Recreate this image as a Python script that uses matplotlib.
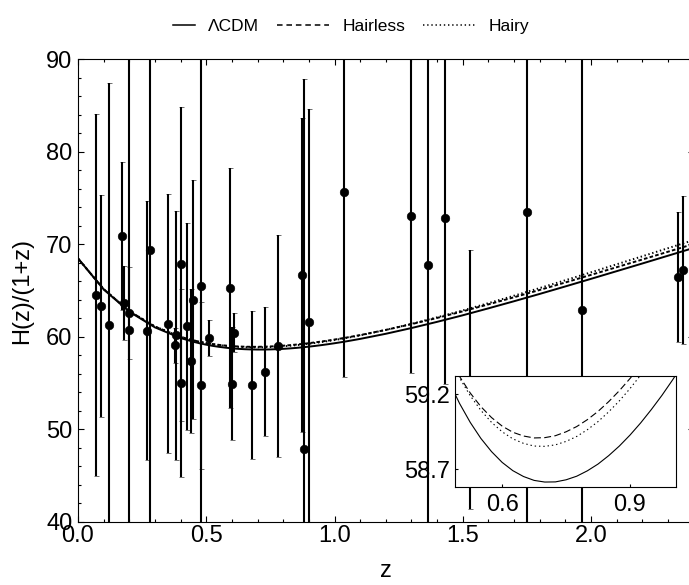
import numpy as np
import matplotlib
matplotlib.use("Agg")
import matplotlib.pyplot as plt
from matplotlib.ticker import MultipleLocator, FixedLocator
from matplotlib.lines import Line2D
from matplotlib.legend_handler import HandlerLine2D

plt.rcParams['font.family'] = ['Liberation Sans', 'DejaVu Sans']
plt.rcParams['lines.scale_dashes'] = False

# ---------------- data: H(z)/(1+z) with sigma_H error bars ----------------
z_data = [0.07, 0.09, 0.12, 0.17, 0.179, 0.199, 0.2, 0.27, 0.28, 0.352,
          0.38, 0.3802, 0.4, 0.4004, 0.4247, 0.44, 0.4497, 0.4783, 0.48,
          0.51, 0.593, 0.6, 0.61, 0.68, 0.73, 0.781, 0.875, 0.88, 0.9,
          1.037, 1.3, 1.363, 1.43, 1.53, 1.75, 1.965, 2.34, 2.36]
hz_data = [64.49, 63.30, 61.25, 70.94, 63.61, 62.55, 60.75, 60.63, 69.38, 61.39,
           59.06, 60.14, 67.86, 54.98, 61.14, 57.36, 64.01, 54.73, 65.54,
           59.87, 65.29, 54.94, 60.43, 54.76, 56.24, 58.96, 66.67, 47.87, 61.58,
           75.60, 73.04, 67.71, 72.84, 55.34, 73.45, 62.90, 66.47, 67.26]
err_data = [19.6, 12.0, 26.2, 8.0, 4.0, 5.0, 29.6, 14.0, 36.6, 14.0,
            1.9, 13.5, 17.0, 10.2, 11.2, 7.8, 12.9, 9.0, 62.0,
            1.9, 13.0, 6.1, 2.1, 8.0, 7.0, 12.0, 17.0, 40.0, 23.0,
            20.0, 17.0, 33.6, 18.0, 14.0, 40.0, 50.4, 7.0, 8.0]

# ---------------- model curves ----------------
z_model = [0.0, 0.1, 0.2, 0.3, 0.4, 0.45, 0.475, 0.5, 0.525, 0.55, 0.575, 0.6,
           0.625, 0.65, 0.675, 0.7, 0.725, 0.75, 0.775, 0.8, 0.825, 0.85, 0.875,
           0.9, 0.925, 0.95, 0.975, 1.0, 1.025, 1.05, 1.1, 1.2, 1.3, 1.4, 1.5,
           1.6, 1.7, 1.8, 1.9, 2.0, 2.1, 2.2, 2.3, 2.4]
lcdm = [68.47, 65.12, 62.71, 61.01, 59.86, 59.455, 59.286, 59.139, 59.013, 58.906,
        58.818, 58.746, 58.691, 58.652, 58.626, 58.615, 58.616, 58.630, 58.654,
        58.690, 58.735, 58.791, 58.855, 58.928, 59.009, 59.098, 59.193, 59.296,
        59.405, 59.520, 59.767, 60.32, 60.94, 61.61, 62.32, 63.07, 63.84, 64.63,
        65.44, 66.26, 67.09, 67.92, 68.76, 69.60]
hairless = [68.47, 65.15, 62.77, 61.10, 59.99, 59.610, 59.453, 59.319, 59.209,
            59.118, 59.045, 58.988, 58.947, 58.922, 58.909, 58.911, 58.924,
            58.950, 58.985, 59.031, 59.086, 59.151, 59.224, 59.305, 59.393,
            59.488, 59.588, 59.696, 59.809, 59.927, 60.179, 60.738, 61.362,
            62.035, 62.748, 63.50, 64.27, 65.06, 65.87, 66.69, 67.52, 68.35,
            69.19, 70.03]
hairy = [68.47, 65.154, 62.778, 61.112, 59.996, 59.608, 59.447, 59.309, 59.191,
         59.093, 59.013, 58.950, 58.903, 58.873, 58.855, 58.853, 58.863, 58.886,
         58.919, 58.964, 59.018, 59.083, 59.156, 59.238, 59.328, 59.426, 59.530,
         59.642, 59.760, 59.884, 60.149, 60.738, 61.394, 62.10, 62.846, 63.632,
         64.438, 65.264, 66.11, 66.966, 67.832, 68.698, 69.574, 70.45]

legend_labels = ["\u039bCDM", "Hairless", "Hairy"]
inset_xticks = [0.6, 0.9]
inset_yticks = [58.7, 59.2]

# ---------------- figure ----------------
W, H = 689, 585
fig = plt.figure(figsize=(W / 100, H / 100), dpi=100)

ax = fig.add_axes([78 / W, 63.3 / H, 615.6 / W, 462.4 / H])
ax.errorbar(z_data, hz_data, yerr=err_data, fmt='o', color='black',
            ms=6.2, mew=0.4, elinewidth=1.5, capsize=1.8, capthick=1.4, zorder=2)
ax.plot(z_model, lcdm, '-', color='black', lw=1.4, zorder=3)
ax.plot(z_model, hairless, color='black', lw=1.4, dashes=(2.6, 1.6), zorder=3)
ax.plot(z_model, hairy, color='black', lw=1.4, dashes=(1.0, 1.9), zorder=3)

ax.set_xlim(0, 2.4)
ax.set_ylim(40, 90)
ax.xaxis.set_major_locator(MultipleLocator(0.5))
ax.xaxis.set_minor_locator(MultipleLocator(0.1))
ax.yaxis.set_major_locator(MultipleLocator(10))
ax.yaxis.set_minor_locator(MultipleLocator(2))
ax.xaxis.set_major_formatter(plt.FormatStrFormatter('%.1f'))
ax.tick_params(which='both', direction='in', top=True, right=True,
               labelsize=17, width=0.8, color='black')
ax.tick_params(which='major', length=4)
ax.tick_params(which='minor', length=2.2)
ax.tick_params(axis='x', pad=2.5)
ax.tick_params(axis='y', pad=4)
for s in ax.spines.values():
    s.set_linewidth(0.8)
    s.set_color('black')

ax.set_xlabel('z', fontsize=17)
ax.xaxis.set_label_coords(0.5, -0.082)
ax.set_ylabel('H(z)/(1+z)', fontsize=17, va='center')
ax.yaxis.set_label_coords(-(78 - 22.5) / 615.6, 0.5)

# ---------------- legend ----------------
class ShortHandler(HandlerLine2D):
    def __init__(self, frac, **kw):
        super().__init__(**kw)
        self.frac = frac

    def get_xdata(self, legend, xdescent, ydescent, width, height, fontsize):
        xdata, xm = super().get_xdata(legend, xdescent, ydescent, width, height, fontsize)
        x0, x1 = xdata[0], xdata[-1]
        nx0 = x1 - (x1 - x0) * self.frac
        return np.array([nx0, x1]), np.array([(nx0 + x1) / 2])

h1 = Line2D([], [], color='black', lw=1.1)
h2 = Line2D([], [], color='black', lw=1.1, dashes=(4.0, 2.8))
h3 = Line2D([], [], color='black', lw=1.1, dashes=(1.0, 2.0))
fig.legend([h1, h2, h3], legend_labels, loc='center',
           bbox_to_anchor=(336 / W, 1 - 26 / H), ncol=3, frameon=False,
           fontsize=12.5, handlelength=3.0, handletextpad=0.75,
           columnspacing=1.05, handler_map={h1: ShortHandler(0.43)})

# ---------------- inset ----------------
ins = fig.add_axes([455.3 / W, (H - 487) / H, (676 - 455.3) / W, (487 - 376) / H])
ins.set_facecolor('white')
ins.set_zorder(5)
ins.plot(z_model, lcdm, '-', color='black', lw=0.8)
ins.plot(z_model, hairless, color='black', lw=0.8, dashes=(5.0, 2.4))
ins.plot(z_model, hairy, color='black', lw=0.8, dashes=(1.0, 2.1))
ins.set_xlim(0.49, 1.008)
ins.set_ylim(58.582, 59.322)
ins.xaxis.set_major_locator(FixedLocator(inset_xticks))
ins.yaxis.set_major_locator(FixedLocator(inset_yticks))
ins.xaxis.set_major_formatter(plt.FormatStrFormatter('%.1f'))
ins.yaxis.set_major_formatter(plt.FormatStrFormatter('%.1f'))
ins.tick_params(direction='in', length=2.2, width=0.8, labelsize=17)
ins.tick_params(axis='x', pad=5)
ins.tick_params(axis='y', pad=3.5)
for s in ins.spines.values():
    s.set_linewidth(0.8)
    s.set_color('black')

fig.savefig('out.png', dpi=100)
